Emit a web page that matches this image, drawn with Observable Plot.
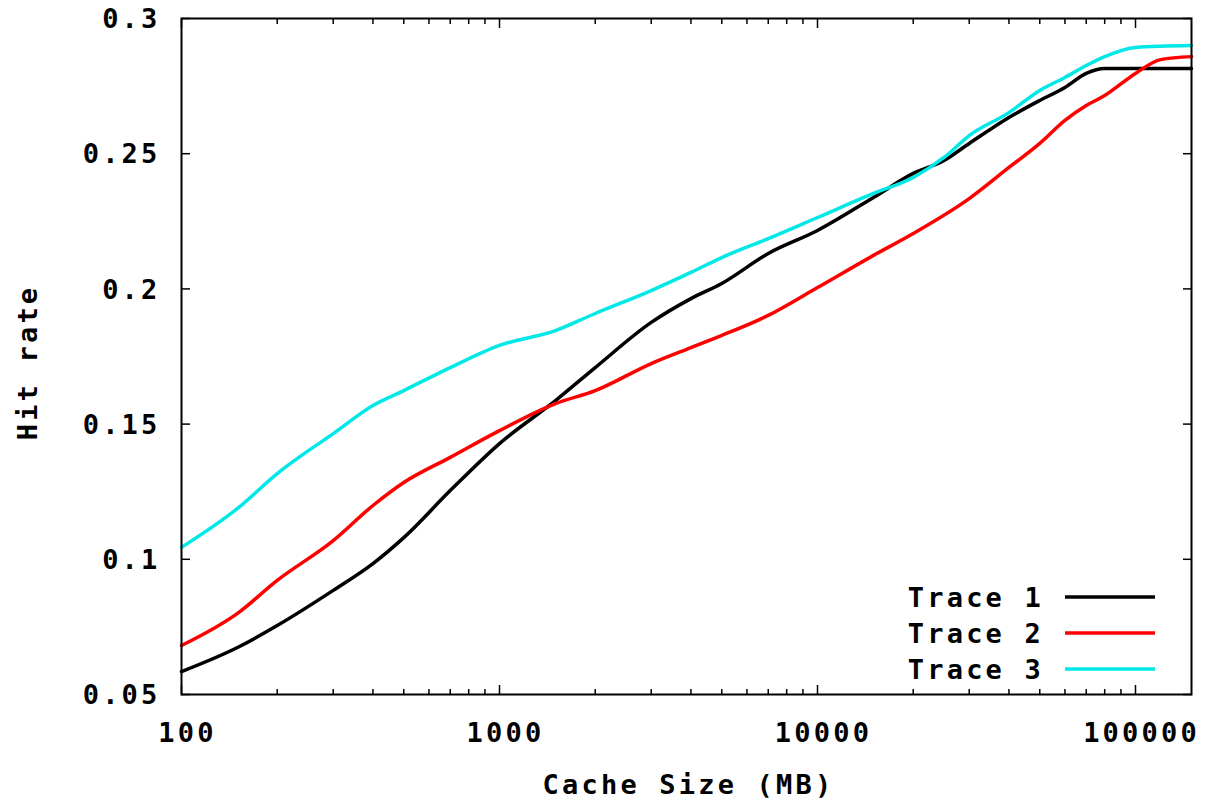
<!DOCTYPE html>
<html>
<head>
<meta charset="utf-8">
<script src="https://cdn.jsdelivr.net/npm/d3@7"></script>
<script src="https://cdn.jsdelivr.net/npm/@observablehq/plot@0.6"></script>
<style>
  html, body { margin: 0; padding: 0; background: #fff; }
  #chart svg text { letter-spacing: 3.2px; }
</style>
</head>
<body>
<div id="chart"></div>
<script>
// Cache sizes (MB) sampled along each trace
const sizes1 = [100, 150, 200, 300, 400, 500, 700, 1000, 1500, 2000, 3000, 4000, 5000, 7000, 10000, 15000, 20000, 25000, 30000, 40000, 50000, 60000, 70000, 80000, 100000, 150000];
const hit1   = [0.0585, 0.0674, 0.0755, 0.0885, 0.0984, 0.108, 0.1254, 0.1428, 0.1587, 0.1709, 0.1876, 0.1964, 0.202, 0.2131, 0.2216, 0.2338, 0.2427, 0.2475, 0.2538, 0.2634, 0.2697, 0.2745, 0.2797, 0.2815, 0.2815, 0.2815];

const sizes2 = [100, 150, 200, 300, 400, 500, 700, 1000, 1500, 2000, 3000, 4000, 5000, 7000, 10000, 15000, 20000, 30000, 40000, 50000, 60000, 70000, 80000, 100000, 120000, 150000];
const hit2   = [0.0681, 0.08, 0.0922, 0.1069, 0.1199, 0.1284, 0.1377, 0.1476, 0.1576, 0.1624, 0.1724, 0.1783, 0.1828, 0.1902, 0.2005, 0.2124, 0.2205, 0.2334, 0.2449, 0.2538, 0.2623, 0.2678, 0.2715, 0.2797, 0.2848, 0.2859];

const sizes3 = [100, 150, 200, 300, 400, 500, 700, 1000, 1500, 2000, 3000, 4000, 5000, 7000, 10000, 15000, 20000, 25000, 30000, 40000, 50000, 60000, 70000, 80000, 100000, 150000];
const hit3   = [0.1044, 0.1188, 0.1317, 0.1465, 0.1569, 0.1624, 0.1709, 0.1791, 0.1846, 0.1909, 0.1994, 0.2061, 0.2116, 0.2186, 0.2264, 0.2353, 0.2412, 0.2486, 0.2567, 0.2652, 0.2734, 0.2782, 0.2826, 0.2859, 0.2893, 0.29];

const seriesNames = ["Trace 1", "Trace 2", "Trace 3"];
const seriesColors = ["#000000", "#ff0000", "#00e8e8"];

const xTicks = [100, 1000, 10000, 100000];
const xTickLabels = ["100", "1000", "10000", "100000"];
const xMinorTicks = [];
for (const d of [100, 1000, 10000, 100000]) for (let m = 2; m <= 9; m++) if (d * m <= 150000) xMinorTicks.push(d * m);
const yTicks = [0.05, 0.1, 0.15, 0.2, 0.25, 0.3];
const yTickLabels = ["0.05", "0.1", "0.15", "0.2", "0.25", "0.3"];

const xLabel = "Cache Size (MB)";
const yLabel = "Hit rate";

const toRows = (xs, ys, name) => xs.map((x, i) => ({x, y: ys[i], name}));
const rows = [
  ...toRows(sizes1, hit1, seriesNames[0]),
  ...toRows(sizes2, hit2, seriesNames[1]),
  ...toRows(sizes3, hit3, seriesNames[2])
];

const font = "'DejaVu Sans Mono', 'Liberation Mono', monospace";
const fs = 27;

const plot = Plot.plot({
  width: 1205,
  height: 800,
  marginLeft: 181,
  marginRight: 14,
  marginTop: 18,
  marginBottom: 106,
  style: {fontFamily: font, fontSize: fs + "px", fontWeight: "bold", background: "#fff", color: "#000"},
  x: {type: "log", domain: [100, 150000]},
  y: {domain: [0.05, 0.3]},
  color: {domain: seriesNames, range: seriesColors},
  marks: [
    // inward ticks, mirrored on all four sides
    Plot.axisX(xTicks, {anchor: "bottom", tickSize: -9, strokeWidth: 1.5, text: null, label: null}),
    Plot.axisX(xTicks, {anchor: "top", tickSize: -9, strokeWidth: 1.5, text: null, label: null}),
    Plot.axisX(xMinorTicks, {anchor: "bottom", tickSize: -5, strokeWidth: 1.5, text: null, label: null}),
    Plot.axisX(xMinorTicks, {anchor: "top", tickSize: -5, strokeWidth: 1.5, text: null, label: null}),
    Plot.axisY(yTicks, {anchor: "left", tickSize: -9, strokeWidth: 1.5, text: null, label: null}),
    Plot.axisY(yTicks, {anchor: "right", tickSize: -9, strokeWidth: 1.5, text: null, label: null}),
    // tick labels
    Plot.axisX(xTicks, {anchor: "bottom", tickSize: 0, tickPadding: 28, dx: 6, tickFormat: (d) => xTickLabels[xTicks.indexOf(d)], label: null, fontSize: fs, fontWeight: "bold"}),
    Plot.axisY(yTicks, {anchor: "left", tickSize: 0, tickPadding: 21, dy: 1, tickFormat: (d) => yTickLabels[yTicks.findIndex(t => Math.abs(t - d) < 1e-9)], label: null, fontSize: fs, fontWeight: "bold"}),
    Plot.line(rows, {x: "x", y: "y", z: "name", stroke: "name", strokeWidth: 3.5, strokeLinejoin: "round", curve: "monotone-x"}),
    Plot.frame({stroke: "#000", strokeWidth: 2}),
    Plot.text([xLabel], {frameAnchor: "bottom", dy: 99, dx: 2, fontSize: fs, fontWeight: "bold"}),
    Plot.text([yLabel], {frameAnchor: "left", textAnchor: "middle", dx: -153, dy: 6, rotate: -90, fontSize: fs, fontWeight: "bold"})
  ]
});

document.getElementById("chart").appendChild(plot);

// Legend (key) inside the plot area, bottom right
const svg = d3.select(plot);
const key = svg.append("g").attr("font-family", font).attr("font-size", fs).attr("font-weight", "bold");
seriesNames.forEach((name, i) => {
  const cy = 597 + i * 36;
  key.append("text").attr("x", 1044).attr("y", cy).attr("dy", "0.36em").attr("text-anchor", "end").attr("fill", "#000").text(name);
  key.append("line").attr("x1", 1065).attr("x2", 1155).attr("y1", cy).attr("y2", cy).attr("stroke", seriesColors[i]).attr("stroke-width", 3.5);
});
</script>
</body>
</html>
